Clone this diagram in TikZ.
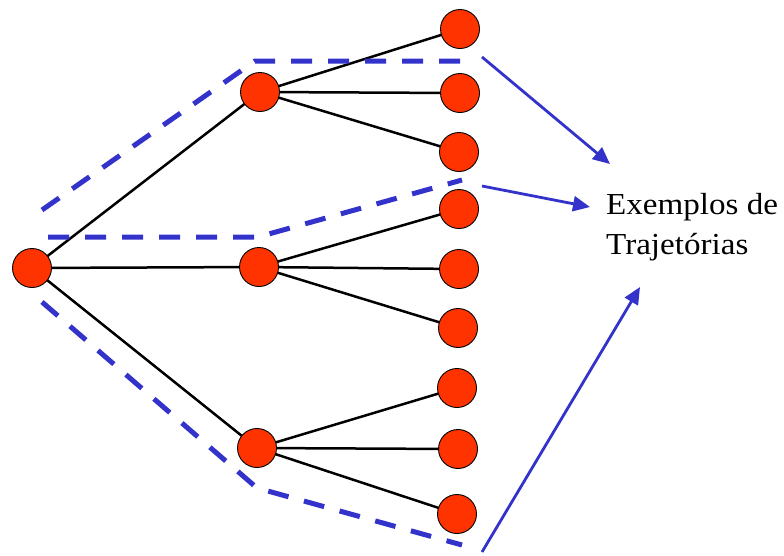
\documentclass[tikz,border=0pt]{standalone}
\usepackage{fontspec}
\usepackage{graphicx}
\setmainfont{Liberation Serif}
\usetikzlibrary{arrows.meta,backgrounds}
\definecolor{nodefill}{HTML}{FF3300}
\definecolor{trajblue}{HTML}{3333CC}
\tikzset{
  state/.style={circle, draw=black, line width=0.9pt, fill=nodefill,
                minimum size=39pt, inner sep=0pt},
  branch/.style={draw=black, line width=2.5pt},
  traj/.style={draw=trajblue, line width=5pt, dash pattern=on 21pt off 16pt},
  pointer/.style={draw=trajblue, line width=2.8pt,
                  -{Triangle[length=17pt,width=15pt]}},
  caption/.style={font=\fontsize{30.5}{40}\selectfont, inner sep=0pt,
                  anchor=base west}
}
\begin{document}
\begin{tikzpicture}[x=1pt,y=-1pt]
\useasboundingbox (0,0) rectangle (784,555);

% tree of states
\node[state] (r) at (32,268) {};
\node[state] (a) at (260,92) {};
\node[state] (b) at (259,267) {};
\node[state] (c) at (257,448) {};
\node[state] (a1) at (460,29) {};
\node[state] (a2) at (460,93) {};
\node[state] (a3) at (459,152) {};
\node[state] (b1) at (459,209) {};
\node[state] (b2) at (459,269) {};
\node[state] (b3) at (458,328) {};
\node[state] (c1) at (457,388) {};
\node[state] (c2) at (458,449) {};
\node[state] (c3) at (457,514) {};

\begin{scope}[on background layer]
  \draw[branch] (r.center) -- (a.center);
  \draw[branch] (r.center) -- (b.center);
  \draw[branch] (r.center) -- (c.center);
  \foreach \p in {a,b,c}{
    \foreach \k in {1,2,3}{
      \draw[branch] (\p.center) -- (\p\k.center);
    }
  }
\end{scope}

% trajectories (dashed outlines)
\coordinate (t1e) at (470,61);
\coordinate (t2e) at (462,180);
\coordinate (t3e) at (462,545);
\draw[traj] (42,210) -- (255,61) -- (t1e);
\draw[traj] (48,237) -- (258,237) -- (t2e);
\draw[traj] (42,302) -- (257,488) -- (t3e);

% caption
\node[caption] (lbl1) at (606,214) {\scalebox{1.085}[1]{Exemplos de}};
\node[caption] (lbl2) at (606,254) {\scalebox{1.085}[1]{Trajetórias}};

% pointers to the caption
\coordinate (s1) at (482,57);
\coordinate (s2) at (482,186);
\coordinate (s3) at (482,552);
\coordinate (e1) at (610,164);
\coordinate (e2) at (590,207);
\coordinate (e3) at (640,287);
\draw[pointer] (s1) -- (e1);
\draw[pointer] (s2) -- (e2);
\draw[pointer] (s3) -- (e3);
\end{tikzpicture}
\end{document}
